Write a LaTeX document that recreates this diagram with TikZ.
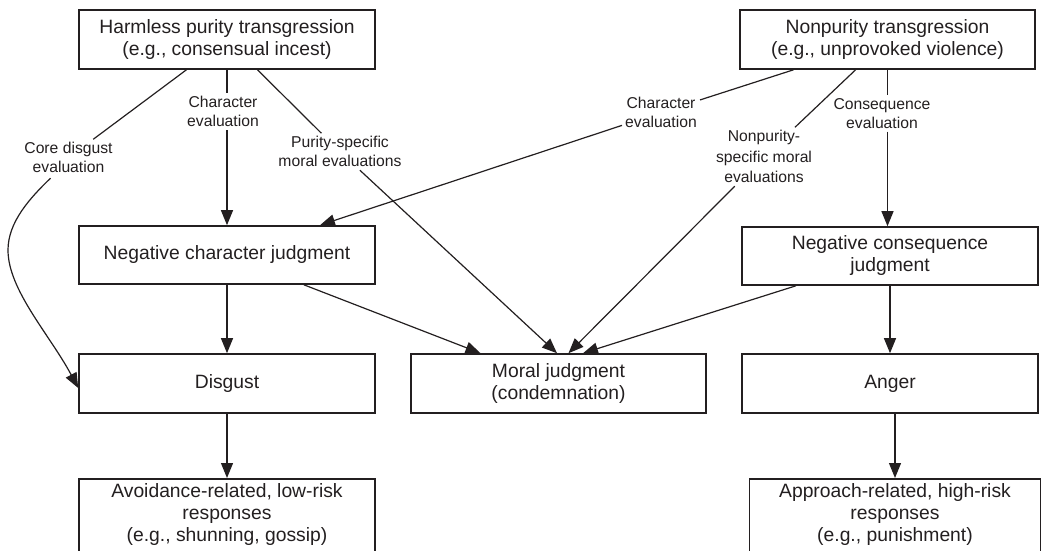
\documentclass[tikz,border=0pt]{standalone}
\usepackage{fontspec}
\setmainfont{Liberation Sans}
\usetikzlibrary{arrows.meta,calc}
\definecolor{ink}{HTML}{231F20}

\begin{document}
\begin{tikzpicture}[x=1pt,y=-1pt,
  box/.style={draw=ink, line width=1.6pt, text=ink, minimum width=296pt,
    minimum height=59pt, inner sep=0pt, align=center,
    font=\fontsize{19.3}{22}\selectfont},
  lab/.style={text=ink, align=center, inner sep=3pt,
    font=\fontsize{15.7}{19}\selectfont},
  conn/.style={draw=ink, line width=1.2pt},
  arr/.style={conn, -{Triangle[length=15pt,width=12pt]}}]

\useasboundingbox (0,0) rectangle (1041,551);
\clip (0,0) rectangle (1041,551);

% transgressions
\node[box] (harm) at (227,39.5) {Harmless purity transgression\\(e.g., consensual incest)};
\node[box, minimum width=295pt] (nonp) at (887.5,39.5) {Nonpurity transgression\\(e.g., unprovoked violence)};

% judgments
\node[box, minimum height=58pt] (nchar) at (227,255) {Negative character judgment};
\node[box, minimum height=58pt] (ncons) at (890,256) {Negative consequence\\judgment};

% emotions and moral judgment
\node[box] (disg) at (227,383.5) {Disgust};
\node[box, minimum width=295pt] (moral) at (558.5,383.5) {Moral judgment\\(condemnation)};
\node[box] (anger) at (890,383.5) {Anger};

% responses (boxes run past the lower edge)
\node[box, minimum height=0pt, inner ysep=5pt, text depth=80pt, anchor=north] (avoid) at (227,478)
  {Avoidance-related, low-risk\\responses\\(e.g., shunning, gossip)};
\node[box, minimum width=291pt, minimum height=0pt, inner ysep=5pt, text depth=80pt, anchor=north] (appr) at (895,478)
  {Approach-related, high-risk\\responses\\(e.g., punishment)};

% evaluation labels
\node[lab] (lcore) at (68.5,157.75) {Core disgust\\evaluation};
\node[lab] (lchar) at (223,111.75) {Character\\evaluation};
\node[lab] (lpur) at (340,151.75) {Purity-specific\\moral evaluations};
\node[lab] (lchartwo) at (661,112.5) {Character\\evaluation};
\node[lab, font=\fontsize{15.7}{20.5}\selectfont] (lnon) at (764,156.75) {Nonpurity-\\specific moral\\evaluations};
\node[lab] (lcons) at (882,113.25) {Consequence\\evaluation};

% paths from the purity transgression
\coordinate (bend) at (8,250);
\draw[conn] (harm) -- (lcore);
\draw[arr] ($(lcore.south)+(-18,2)$) .. controls (30,198) and (8,222) .. (bend)
  .. controls (8,290) and (50,335) .. ($(disg.west)+(0,4.5)$);
\draw[conn] (harm.south) -- (harm.south |- lchar.north);
\draw[arr] (harm.south |- lchar.south) -- (nchar.north);
\draw[conn] (harm) -- (lpur);
\draw[arr] (lpur) -- ($(moral.north)+(-1.5,0)$);

% paths from the nonpurity transgression
\draw[conn] (nonp) -- (lchartwo);
\draw[arr] (lchartwo) -- ($(nchar.north)+(93,0)$);
\draw[conn] (nonp) -- (lnon);
\draw[arr] (lnon) -- ($(moral.north)+(10,0)$);
\draw[conn] (nonp.south) -- (nonp.south |- lcons.north);
\draw[arr] (nonp.south |- lcons.south) -- (nonp.south |- ncons.north);

% judgments to emotions and moral judgment
\draw[arr] (nchar) -- ($(moral.north)+(-78,0)$);
\draw[arr] (ncons) -- ($(moral.north)+(24.5,0)$);
\draw[arr] (nchar) -- (disg);
\draw[arr] (ncons) -- (anger);

% emotions to responses
\draw[arr] (disg) -- (avoid);
\draw[arr] (appr.north |- anger.south) -- (appr.north);
\end{tikzpicture}
\end{document}
